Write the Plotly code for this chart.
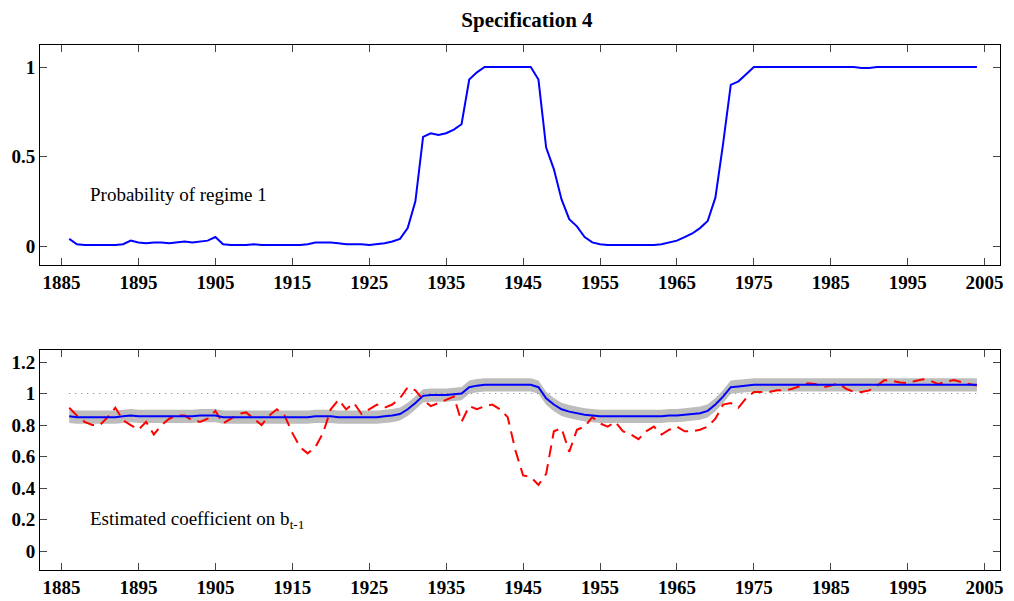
import plotly.graph_objects as go

years = list(range(1886, 2005))

prob_regime1 = [
    0.04, 0.01, 0.005, 0.005, 0.005, 0.005, 0.005, 0.01, 0.03, 0.02,  # 1886-1895
    0.015, 0.02, 0.02, 0.015, 0.02, 0.025, 0.02, 0.025, 0.03, 0.05,  # 1896-1905
    0.01, 0.005, 0.005, 0.005, 0.01, 0.005, 0.005, 0.005, 0.005, 0.005,  # 1906-1915
    0.005, 0.01, 0.02, 0.02, 0.02, 0.015, 0.01, 0.01, 0.01, 0.005,  # 1916-1925
    0.01, 0.015, 0.025, 0.04, 0.1, 0.25, 0.61, 0.63, 0.62, 0.63,  # 1926-1935
    0.65, 0.68, 0.93, 0.97, 1.0, 1.0, 1.0, 1.0, 1.0, 1.0,  # 1936-1945
    1.0, 0.93, 0.55, 0.43, 0.26, 0.15, 0.11, 0.05, 0.02, 0.01,  # 1946-1955
    0.005, 0.005, 0.005, 0.005, 0.005, 0.005, 0.005, 0.01, 0.02, 0.03,  # 1956-1965
    0.05, 0.07, 0.1, 0.14, 0.27, 0.57, 0.9, 0.92, 0.96, 1.0,  # 1966-1975
    1.0, 1.0, 1.0, 1.0, 1.0, 1.0, 1.0, 1.0, 1.0, 1.0,  # 1976-1985
    1.0, 1.0, 1.0, 0.995, 0.995, 1.0, 1.0, 1.0, 1.0, 1.0,  # 1986-1995
    1.0, 1.0, 1.0, 1.0, 1.0, 1.0, 1.0, 1.0, 1.0,  # 1996-2004
]

coef_est = [
    0.855, 0.85, 0.85, 0.85, 0.85, 0.85, 0.85, 0.855, 0.86, 0.855,
    0.855, 0.855, 0.855, 0.855, 0.855, 0.855, 0.855, 0.86, 0.86, 0.86,
    0.85, 0.85, 0.85, 0.85, 0.85, 0.85, 0.85, 0.85, 0.85, 0.85,
    0.85, 0.85, 0.855, 0.855, 0.855, 0.85, 0.85, 0.85, 0.85, 0.85,
    0.85, 0.855, 0.86, 0.87, 0.9, 0.94, 0.985, 0.99, 0.99, 0.99,
    0.995, 1.0, 1.04, 1.05, 1.055, 1.055, 1.055, 1.055, 1.055, 1.055,
    1.055, 1.04, 0.97, 0.93, 0.9, 0.885, 0.875, 0.865, 0.86, 0.855,
    0.855, 0.855, 0.855, 0.855, 0.855, 0.855, 0.855, 0.855, 0.86, 0.86,
    0.865, 0.87, 0.875, 0.89, 0.93, 0.98, 1.04, 1.045, 1.05, 1.055,
    1.055, 1.055, 1.055, 1.055, 1.055, 1.055, 1.055, 1.055, 1.055, 1.055,
    1.055, 1.055, 1.055, 1.055, 1.055, 1.055, 1.055, 1.055, 1.055, 1.055,
    1.055, 1.055, 1.055, 1.055, 1.055, 1.055, 1.055, 1.055, 1.055,
]
band_half = 0.042

coef_rolling = [
    0.91, 0.86, 0.82, 0.80, 0.80, 0.85, 0.91, 0.83, 0.80, 0.77,
    0.82, 0.74, 0.80, 0.84, 0.86, 0.86, 0.83, 0.82, 0.84, 0.89,
    0.81, 0.84, 0.87, 0.88, 0.84, 0.80, 0.86, 0.90, 0.86, 0.75,
    0.66, 0.62, 0.66, 0.75, 0.90, 0.96, 0.90, 0.94, 0.87, 0.90,
    0.93, 0.91, 0.93, 0.97, 1.04, 1.02, 0.96, 0.92, 0.94, 0.96,
    0.98, 0.82, 0.92, 0.90, 0.92, 0.93, 0.90, 0.85, 0.64, 0.48,
    0.47, 0.42, 0.49, 0.76, 0.78, 0.63, 0.77, 0.79, 0.85, 0.81,
    0.79, 0.82, 0.76, 0.74, 0.71, 0.76, 0.79, 0.74, 0.77, 0.79,
    0.76, 0.76, 0.77, 0.79, 0.84, 0.93, 0.94, 0.91, 0.97, 1.01,
    1.01, 1.01, 1.02, 1.02, 1.03, 1.05, 1.065, 1.06, 1.04, 1.05,
    1.065, 1.03, 1.01, 1.01, 1.02, 1.05, 1.085, 1.08, 1.07, 1.065,
    1.08, 1.09, 1.08, 1.06, 1.075, 1.085, 1.07, 1.06, 1.05,
]

xticks = list(range(1885, 2006, 10))

fig = go.Figure()
fig.add_trace(go.Scatter(x=years, y=prob_regime1, mode="lines",
                         line=dict(color="#0000ff", width=2), xaxis="x", yaxis="y"))
fig.add_trace(go.Scatter(x=years, y=[v + band_half for v in coef_est], mode="lines",
                         line=dict(color="#bdbdbd", width=0), xaxis="x2", yaxis="y2"))
fig.add_trace(go.Scatter(x=years, y=[v - band_half for v in coef_est], mode="lines",
                         line=dict(color="#bdbdbd", width=0), fill="tonexty",
                         fillcolor="#bdbdbd", xaxis="x2", yaxis="y2"))
fig.add_trace(go.Scatter(x=[years[0], years[-1]], y=[1, 1], mode="lines",
                         line=dict(color="#777777", width=1, dash="1px,5px"), xaxis="x2", yaxis="y2"))
fig.add_trace(go.Scatter(x=years, y=coef_rolling, mode="lines",
                         line=dict(color="#ff0000", width=2, dash="12px,7px"), xaxis="x2", yaxis="y2"))
fig.add_trace(go.Scatter(x=years, y=coef_est, mode="lines",
                         line=dict(color="#0000ff", width=2), xaxis="x2", yaxis="y2"))

# page body has an 8px margin, so the figure is shifted and margins compensate
ax = dict(showline=True, mirror="ticks", linecolor="black", linewidth=1, ticks="inside",
          ticklen=7, showgrid=False, zeroline=False, automargin=False,
          tickfont=dict(family="Liberation Serif", size=19, color="black", weight="bold"))
fig.update_layout(
    width=998, height=593, showlegend=False,
    paper_bgcolor="white", plot_bgcolor="white",
    margin=dict(l=32, r=6, t=37, b=31),
    font=dict(family="Liberation Serif", color="black"),
    title=dict(text="<b>Specification 4</b>", x=0.52, y=1 - 12 / 593, yanchor="middle", xanchor="center",
               font=dict(size=21, family="Liberation Serif")),
    xaxis=dict(ax, domain=[0, 1], range=[1882.2, 2007.0], tickvals=xticks, anchor="y"),
    yaxis=dict(ax, domain=[0.581, 1], range=[-0.106, 1.123], tickvals=[0, 0.5, 1],
               ticktext=["0", "0.5", "1"], anchor="x"),
    xaxis2=dict(ax, domain=[0, 1], range=[1882.2, 2007.0], tickvals=xticks, anchor="y2"),
    yaxis2=dict(ax, domain=[0, 0.419], range=[-0.12, 1.276],
                tickvals=[0, 0.2, 0.4, 0.6, 0.8, 1, 1.2],
                ticktext=["0", "0.2", "0.4", "0.6", "0.8", "1", "1.2"], anchor="x2"),
    annotations=[
        dict(text="Probability of regime 1", x=1888.4, y=0.29, xref="x", yref="y",
             showarrow=False, xanchor="left", font=dict(size=19)),
        dict(text="Estimated coefficient on b<sub>t-1</sub>", x=1888.4, y=0.2, xref="x2",
             yref="y2", showarrow=False, xanchor="left", font=dict(size=19)),
    ],
)
fig.write_html("out.html")
